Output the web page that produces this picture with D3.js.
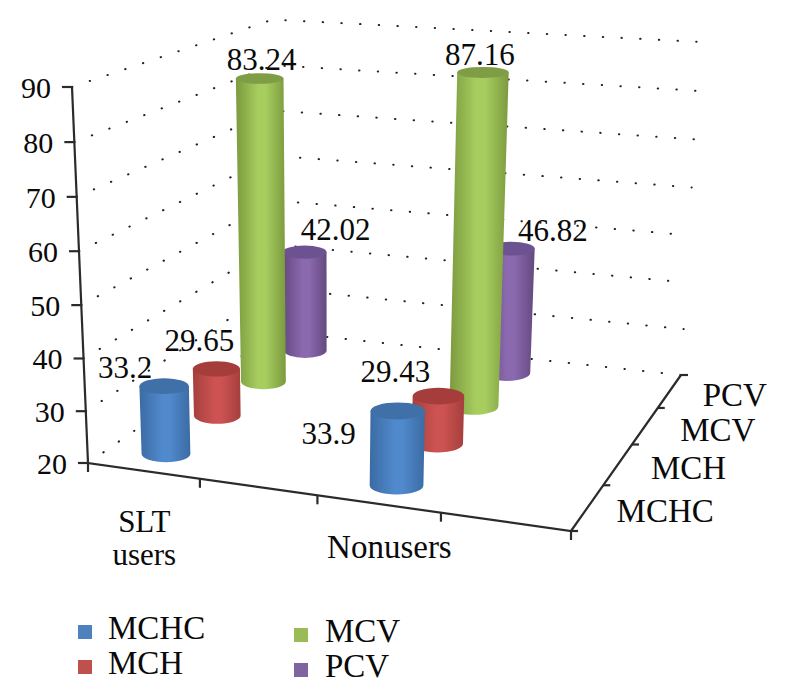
<!DOCTYPE html>
<html>
<head>
<meta charset="utf-8">
<script src="https://cdn.jsdelivr.net/npm/d3@7"></script>
<style>
  html, body { margin: 0; padding: 0; background: #fff; }
  text { font-family: "Liberation Serif", serif; fill: #0a0a0a; }
</style>
</head>
<body>
<svg id="chart" width="786" height="698"></svg>
<script>
// values
const categories = ["SLT users", "Nonusers"];
const series = ["MCHC", "MCH", "MCV", "PCV"];
const sltValues = [33.2, 29.65, 83.24, 42.02];
const nonuserValues = [33.9, 29.43, 87.16, 46.82];
const valueTicks = [20, 30, 40, 50, 60, 70, 80, 90];
const colors = {
  MCHC: { edge: "#3b6ba3", mid: "#5089cc", cap: "#3f70a8", key: "#4f81bd" },
  MCH: { edge: "#a53f3d", mid: "#cc5351", cap: "#a53d3b", key: "#c0504d" },
  MCV: { edge: "#7b9a3e", mid: "#a7cd5f", cap: "#7f9d45", key: "#9bbb59" },
  PCV: { edge: "#64497f", mid: "#8a69ae", cap: "#6c5290", key: "#8064a2" }
};

const svg = d3.select("#chart");

// floor and ceiling of the 3d box, as seen on screen
// order: front left, front right, back right, back left
const floorQuad = [[88, 463], [571, 531], [681, 375], [277, 331.5]];
const topQuad = [[72, 87], [587, 121], [700, 42], [273, 19.5]];

// unit square -> quad, perspective
function quadMap(q) {
  const [[x0, y0], [x1, y1], [x2, y2], [x3, y3]] = q;
  const dx1 = x1 - x2, dx2 = x3 - x2, dx3 = x0 - x1 + x2 - x3;
  const dy1 = y1 - y2, dy2 = y3 - y2, dy3 = y0 - y1 + y2 - y3;
  const den = dx1 * dy2 - dx2 * dy1;
  const g = (dx3 * dy2 - dx2 * dy3) / den;
  const h = (dx1 * dy3 - dx3 * dy1) / den;
  const a = x1 - x0 + g * x1, b = x3 - x0 + h * x3;
  const d = y1 - y0 + g * y1, e = y3 - y0 + h * y3;
  return (u, v) => {
    const w = g * u + h * v + 1;
    return [(a * u + b * v + x0) / w, (d * u + e * v + y0) / w];
  };
}
const floorMap = quadMap(floorQuad);
const topMap = quadMap(topQuad);

const xScale = d3.scalePoint().domain(categories).range([0.125, 0.625]);
const xBand = 0.25;
const depthScale = d3.scaleBand().domain(series).range([0, 1]);
// bars sit a little ahead of the depth ticks at the front
const barDepth = d3.scalePoint().domain(series).range([0.105, 0.875]);
const valueScale = d3.scalePow().exponent(1.05).domain([20, 90]).range([0, 1]);
const capScale = d3.scaleLinear().domain([20, 90]).range([0.34, 0.21]);

// u along the front, v into the depth, value up
function project(u, v, value) {
  const t = valueScale(value);
  const f = floorMap(u, v), c = topMap(u, v);
  return [f[0] + (c[0] - f[0]) * t, f[1] + (c[1] - f[1]) * t];
}

// gradients for the cylinder sides
const defs = svg.append("defs");
series.forEach(s => {
  const g = defs.append("linearGradient").attr("id", "side-" + s);
  g.append("stop").attr("offset", "0%").attr("stop-color", colors[s].edge);
  g.append("stop").attr("offset", "45%").attr("stop-color", colors[s].mid);
  g.append("stop").attr("offset", "60%").attr("stop-color", colors[s].mid);
  g.append("stop").attr("offset", "100%").attr("stop-color", colors[s].edge);
});

// dotted grid on the left and back walls
const gridLine = d3.line();
svg.append("g").selectAll("path")
  .data(valueTicks)
  .enter().append("path")
  .attr("d", d => gridLine([project(0, 0, d), project(0, 1, d), project(1, 1, d)]))
  .attr("fill", "none")
  .attr("stroke", "#222")
  .attr("stroke-width", 2)
  .attr("stroke-linecap", "round")
  .attr("stroke-dasharray", "0.4 18.3");

// axes
const axisColor = "#2b2b2b";
const axes = svg.append("g").attr("stroke", axisColor).attr("stroke-width", 2.2).attr("fill", "none");
axes.append("path").attr("d", gridLine([project(0, 0, 90), project(0, 0, 20), project(1, 0, 20), project(1, 1, 20)]));

valueTicks.forEach(d => {
  const p = project(0, 0, d);
  axes.append("path").attr("d", gridLine([p, [p[0] - 10, p[1]]]));
  svg.append("text")
    .attr("x", p[0] - 21)
    .attr("y", p[1] + 11)
    .attr("text-anchor", "end")
    .style("font-size", "30px")
    .text(d);
});
d3.range(5).forEach(i => {
  const p = project(i / 4, 0, 20);
  axes.append("path").attr("d", gridLine([p, [p[0], p[1] + 9]]));
  const q = project(1, i / 4, 20);
  axes.append("path").attr("d", gridLine([q, [q[0] + 7, q[1]]]));
});

// category labels, SLT users wraps on two lines
const catOffsets = [[1, 61], [11, 54]];
const catSizes = [31, 33];
categories.forEach((c, i) => {
  const p = project(xScale(c), 0, 20);
  const label = svg.append("text")
    .attr("x", p[0] + catOffsets[i][0])
    .attr("y", p[1] + catOffsets[i][1])
    .attr("text-anchor", "middle")
    .style("font-size", catSizes[i] + "px");
  const lines = i === 0 ? c.split(" ") : [c];
  lines.forEach((t, j) => {
    label.append("tspan")
      .attr("x", p[0] + catOffsets[i][0])
      .attr("dy", j === 0 ? 0 : 33)
      .text(t);
  });
});

// series labels along the depth axis
const seriesDx = [-3, 1, 3, 1];
series.forEach((s, i) => {
  const p = project(1, depthScale(s) + depthScale.bandwidth() / 2, 20);
  svg.append("text")
    .attr("x", p[0] + 32 + seriesDx[i])
    .attr("y", p[1] + 15)
    .style("font-size", "33px")
    .text(s);
});

// cylinders, back ones first
const barData = [];
categories.forEach((c, i) => {
  const vals = i === 0 ? sltValues : nonuserValues;
  series.forEach((s, j) => barData.push({ cat: c, series: s, value: vals[j] }));
});
const barOrder = barData.slice().sort((a, b) =>
  d3.ascending(categories.indexOf(a.cat), categories.indexOf(b.cat)) ||
  d3.descending(series.indexOf(a.series), series.indexOf(b.series)));

function radiusAt(d, value) {
  const u = xScale(d.cat), v = barDepth(d.series);
  return (project(u + xBand / 2, v, value)[0] - project(u - xBand / 2, v, value)[0]) * 0.222;
}

const bars = svg.append("g").selectAll("g")
  .data(barOrder)
  .enter().append("g");

bars.each(function(d) {
  const g = d3.select(this);
  const u = xScale(d.cat), v = barDepth(d.series);
  const b = project(u, v, 20), t = project(u, v, d.value);
  const rb = radiusAt(d, 20), rt = radiusAt(d, d.value);
  const ryb = rb * capScale(20), ryt = rt * capScale(d.value);
  d.top = t;
  g.append("path")
    .attr("d", `M${b[0] - rb},${b[1]} L${t[0] - rt},${t[1]} L${t[0] + rt},${t[1]} L${b[0] + rb},${b[1]} A${rb},${ryb} 0 0 1 ${b[0] - rb},${b[1]} Z`)
    .attr("fill", `url(#side-${d.series})`);
  g.append("ellipse")
    .attr("cx", t[0]).attr("cy", t[1])
    .attr("rx", rt).attr("ry", ryt)
    .attr("fill", colors[d.series].cap);
});

// value labels were placed by hand in the original, so each has its own offset
const labelOffsets = [[-39, -8], [-17, -18], [2, -8], [31, -12], [-69, 33], [-43, -14], [-3, -7], [42, -8]];
svg.append("g").selectAll("text")
  .data(barData)
  .enter().append("text")
  .attr("x", (d, i) => d.top[0] + labelOffsets[i][0])
  .attr("y", (d, i) => d.top[1] + labelOffsets[i][1])
  .attr("text-anchor", "middle")
  .style("font-size", "31px")
  .text(d => d.value);

// legend, two columns
const legendX = d3.scalePoint().domain([0, 1]).range([78, 294]);
const legendY = [[625, 660], [628, 663]];
series.forEach((s, i) => {
  const col = Math.floor(i / 2), row = i % 2;
  const y = legendY[col][row];
  svg.append("rect")
    .attr("x", legendX(col)).attr("y", y)
    .attr("width", 14).attr("height", 14)
    .attr("fill", colors[s].key);
  svg.append("text")
    .attr("x", legendX(col) + (col === 0 ? 30 : 31))
    .attr("y", y + 14)
    .style("font-size", "33px")
    .text(s);
});
</script>
</body>
</html>
